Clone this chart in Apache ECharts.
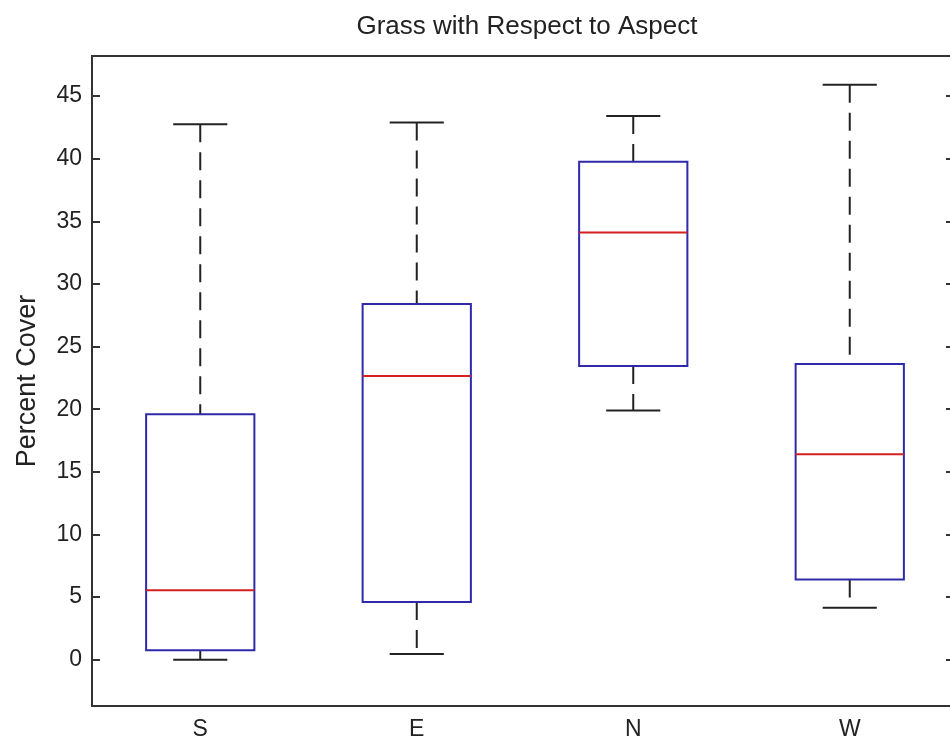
<!DOCTYPE html>
<html>
<head>
<meta charset="utf-8">
<title>Grass with Respect to Aspect</title>
<script src="https://cdn.jsdelivr.net/npm/echarts@6/dist/echarts.min.js"></script>
<style>
  html, body { margin: 0; padding: 0; background: #ffffff; overflow: hidden; }
  /* the axes box runs slightly past the right edge of the window */
  #chart { width: 960px; height: 742px; }
</style>
</head>
<body>
<div id="chart"></div>
<script>
// Aspect categories and the five-number summary of grass cover for each one
const categories = ['S', 'E', 'N', 'W'];
const whiskerLow  = [0.0, 0.45, 19.9, 4.15];
const lowerQuart  = [0.75, 4.6, 23.45, 6.4];
const medians     = [5.55, 22.65, 34.1, 16.4];
const upperQuart  = [19.6, 28.4, 39.75, 23.6];
const whiskerHigh = [42.75, 42.9, 43.4, 45.9];

// Tick values on the percent-cover axis
const yTicks = [0, 5, 10, 15, 20, 25, 30, 35, 40, 45];

const boxData = categories.map((c, i) => [
  i, whiskerLow[i], lowerQuart[i], medians[i], upperQuart[i], whiskerHigh[i]
]);

const FONT = '"Liberation Sans", Arial, Helvetica, sans-serif';
const INK = '#222222';
const AXIS = '#333333';
const BOX_BLUE = '#2e2aaa';
const MEDIAN_RED = '#d42020';

function renderBox(params, api) {
  const idx = api.value(0);
  const band = api.size([1, 0])[0];
  const boxW = band * 0.5;
  const capW = band * 0.25;
  const pLow  = api.coord([idx, api.value(1)]);
  const pQ1   = api.coord([idx, api.value(2)]);
  const pMed  = api.coord([idx, api.value(3)]);
  const pQ3   = api.coord([idx, api.value(4)]);
  const pHigh = api.coord([idx, api.value(5)]);
  const cx = pMed[0];

  const whiskerStyle = { stroke: INK, lineWidth: 2, lineDash: [18, 10] };
  const capStyle = { stroke: INK, lineWidth: 2 };

  return {
    type: 'group',
    children: [
      // upper whisker (dashed) and its cap
      { type: 'line', shape: { x1: cx, y1: pHigh[1], x2: cx, y2: pQ3[1] }, style: whiskerStyle },
      { type: 'line', shape: { x1: cx - capW / 2, y1: pHigh[1], x2: cx + capW / 2, y2: pHigh[1] }, style: capStyle },
      // lower whisker (dashed) and its cap
      { type: 'line', shape: { x1: cx, y1: pQ1[1], x2: cx, y2: pLow[1] }, style: whiskerStyle },
      { type: 'line', shape: { x1: cx - capW / 2, y1: pLow[1], x2: cx + capW / 2, y2: pLow[1] }, style: capStyle },
      // interquartile box
      {
        type: 'rect',
        shape: { x: cx - boxW / 2, y: pQ3[1], width: boxW, height: pQ1[1] - pQ3[1] },
        style: { fill: 'none', stroke: BOX_BLUE, lineWidth: 2 }
      },
      // median
      { type: 'line', shape: { x1: cx - boxW / 2, y1: pMed[1], x2: cx + boxW / 2, y2: pMed[1] },
        style: { stroke: MEDIAN_RED, lineWidth: 2 } }
    ]
  };
}

const chart = echarts.init(document.getElementById('chart'), null, { renderer: 'canvas' });

chart.setOption({
  backgroundColor: '#ffffff',
  animation: false,
  title: {
    text: 'Grass with Respect to Aspect',
    left: 522,
    textAlign: 'center',
    top: 9,
    textStyle: { fontFamily: FONT, fontSize: 26, fontWeight: 'normal', color: INK }
  },
  grid: {
    left: 92, right: 2, top: 56, bottom: 36,
    show: true, borderColor: AXIS, borderWidth: 2, backgroundColor: 'transparent'
  },
  xAxis: {
    type: 'category',
    data: categories,
    boundaryGap: true,
    axisLine: { show: true, onZero: false, lineStyle: { color: AXIS, width: 2 } },
    axisTick: { show: false },
    splitLine: { show: false },
    axisLabel: { fontFamily: FONT, fontSize: 23, color: INK, margin: 12 }
  },
  yAxis: [
    {
      type: 'value',
      min: -3.7,
      max: 48.2,
      name: 'Percent Cover',
      nameLocation: 'middle',
      nameGap: 51,
      nameTextStyle: { fontFamily: FONT, fontSize: 27, color: INK },
      axisLine: { show: true, lineStyle: { color: AXIS, width: 2 } },
      axisTick: { show: true, inside: true, length: 8, customValues: yTicks, lineStyle: { color: AXIS, width: 2 } },
      axisLabel: { customValues: yTicks, fontFamily: FONT, fontSize: 23, color: INK, margin: 10 },
      splitLine: { show: false }
    },
    {
      type: 'value',
      position: 'right',
      min: -3.7,
      max: 48.2,
      axisLine: { show: true, lineStyle: { color: AXIS, width: 2 } },
      axisTick: { show: true, inside: true, length: 12, customValues: yTicks, lineStyle: { color: AXIS, width: 2 } },
      axisLabel: { show: false },
      splitLine: { show: false }
    }
  ],
  series: [{
    type: 'custom',
    renderItem: renderBox,
    data: boxData,
    encode: { x: 0, y: [1, 2, 3, 4, 5] },
    clip: false
  }]
});
</script>
</body>
</html>
